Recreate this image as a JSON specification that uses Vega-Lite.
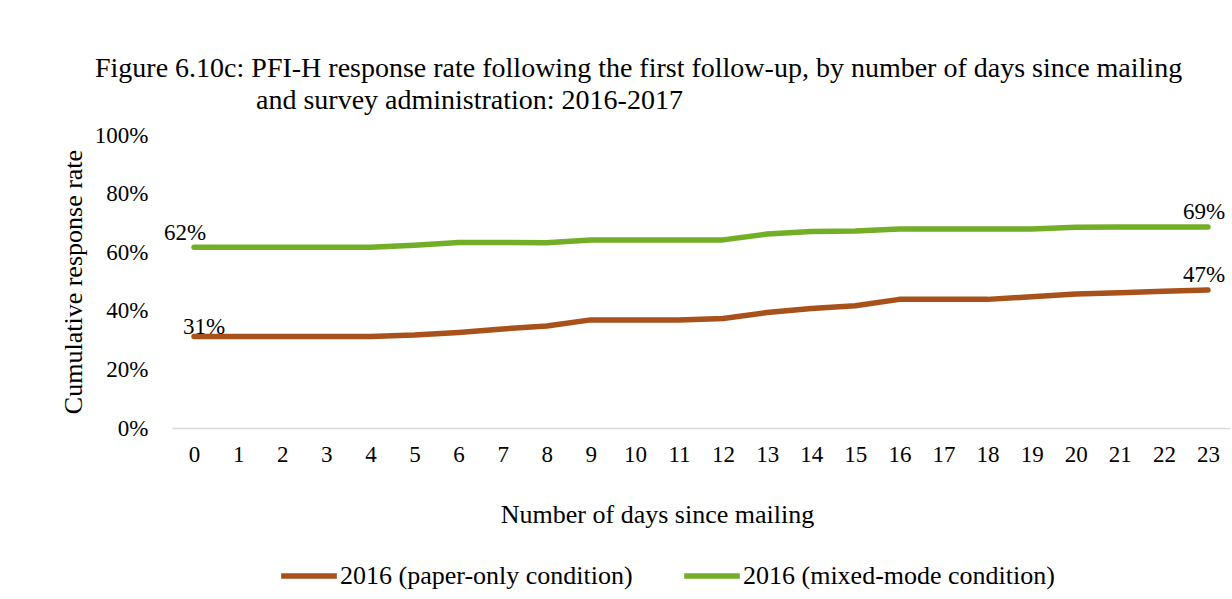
{
  "$schema": "https://vega.github.io/schema/vega-lite/v6.json",
  "autosize": "none",
  "width": 1058,
  "height": 293,
  "padding": {"left": 172, "top": 135, "right": 2, "bottom": 171},
  "background": "white",
  "title": {
    "text": ["Figure 6.10c:  PFI-H response rate following the first follow-up, by number of days since mailing", "\u200b\u00a0\u00a0\u00a0\u00a0\u00a0\u00a0\u00a0\u00a0\u00a0\u00a0\u00a0\u00a0\u00a0\u00a0\u00a0\u00a0\u00a0\u00a0\u00a0\u00a0\u00a0\u00a0\u00a0and survey administration: 2016-2017"],
    "anchor": "start",
    "align": "left",
    "frame": "group",
    "dx": -77,
    "offset": 9,
    "font": "Liberation Serif",
    "fontSize": 28,
    "fontWeight": "normal",
    "color": "#000000",
    "lineHeight": 32
  },
  "config": {
    "view": {"stroke": null},
    "font": "Liberation Serif"
  },
  "data": {
    "values": [
      {"day": 0, "series": "2016 (paper-only condition)", "rate": 0.312},
      {"day": 1, "series": "2016 (paper-only condition)", "rate": 0.312},
      {"day": 2, "series": "2016 (paper-only condition)", "rate": 0.312},
      {"day": 3, "series": "2016 (paper-only condition)", "rate": 0.312},
      {"day": 4, "series": "2016 (paper-only condition)", "rate": 0.312},
      {"day": 5, "series": "2016 (paper-only condition)", "rate": 0.317},
      {"day": 6, "series": "2016 (paper-only condition)", "rate": 0.326},
      {"day": 7, "series": "2016 (paper-only condition)", "rate": 0.338},
      {"day": 8, "series": "2016 (paper-only condition)", "rate": 0.348},
      {"day": 9, "series": "2016 (paper-only condition)", "rate": 0.369},
      {"day": 10, "series": "2016 (paper-only condition)", "rate": 0.369},
      {"day": 11, "series": "2016 (paper-only condition)", "rate": 0.369},
      {"day": 12, "series": "2016 (paper-only condition)", "rate": 0.374},
      {"day": 13, "series": "2016 (paper-only condition)", "rate": 0.394},
      {"day": 14, "series": "2016 (paper-only condition)", "rate": 0.408},
      {"day": 15, "series": "2016 (paper-only condition)", "rate": 0.417},
      {"day": 16, "series": "2016 (paper-only condition)", "rate": 0.439},
      {"day": 17, "series": "2016 (paper-only condition)", "rate": 0.439},
      {"day": 18, "series": "2016 (paper-only condition)", "rate": 0.439},
      {"day": 19, "series": "2016 (paper-only condition)", "rate": 0.448},
      {"day": 20, "series": "2016 (paper-only condition)", "rate": 0.457},
      {"day": 21, "series": "2016 (paper-only condition)", "rate": 0.462},
      {"day": 22, "series": "2016 (paper-only condition)", "rate": 0.467},
      {"day": 23, "series": "2016 (paper-only condition)", "rate": 0.471},
      {"day": 0, "series": "2016 (mixed-mode condition)", "rate": 0.617},
      {"day": 1, "series": "2016 (mixed-mode condition)", "rate": 0.617},
      {"day": 2, "series": "2016 (mixed-mode condition)", "rate": 0.617},
      {"day": 3, "series": "2016 (mixed-mode condition)", "rate": 0.617},
      {"day": 4, "series": "2016 (mixed-mode condition)", "rate": 0.617},
      {"day": 5, "series": "2016 (mixed-mode condition)", "rate": 0.624},
      {"day": 6, "series": "2016 (mixed-mode condition)", "rate": 0.633},
      {"day": 7, "series": "2016 (mixed-mode condition)", "rate": 0.633},
      {"day": 8, "series": "2016 (mixed-mode condition)", "rate": 0.632},
      {"day": 9, "series": "2016 (mixed-mode condition)", "rate": 0.642},
      {"day": 10, "series": "2016 (mixed-mode condition)", "rate": 0.642},
      {"day": 11, "series": "2016 (mixed-mode condition)", "rate": 0.642},
      {"day": 12, "series": "2016 (mixed-mode condition)", "rate": 0.642},
      {"day": 13, "series": "2016 (mixed-mode condition)", "rate": 0.662},
      {"day": 14, "series": "2016 (mixed-mode condition)", "rate": 0.671},
      {"day": 15, "series": "2016 (mixed-mode condition)", "rate": 0.672},
      {"day": 16, "series": "2016 (mixed-mode condition)", "rate": 0.679},
      {"day": 17, "series": "2016 (mixed-mode condition)", "rate": 0.679},
      {"day": 18, "series": "2016 (mixed-mode condition)", "rate": 0.679},
      {"day": 19, "series": "2016 (mixed-mode condition)", "rate": 0.679},
      {"day": 20, "series": "2016 (mixed-mode condition)", "rate": 0.685},
      {"day": 21, "series": "2016 (mixed-mode condition)", "rate": 0.686},
      {"day": 22, "series": "2016 (mixed-mode condition)", "rate": 0.686},
      {"day": 23, "series": "2016 (mixed-mode condition)", "rate": 0.686}
    ]
  },
  "encoding": {
    "x": {
      "field": "day",
      "type": "ordinal",
      "scale": {"type": "point", "padding": 0.5},
      "axis": {
        "title": "Number of days since mailing",
        "labelAngle": 0,
        "labelFont": "Liberation Serif",
        "labelFontSize": 23,
        "labelColor": "#000000",
        "labelPadding": 15,
        "ticks": false,
        "grid": false,
        "domainColor": "#D9D9D9",
        "domainWidth": 1.5,
        "titleFont": "Liberation Serif",
        "titleFontSize": 26,
        "titleFontWeight": "normal",
        "titleColor": "#000000",
        "titleX": 485,
        "titleY": 86,
        "titleAlign": "center",
        "titleBaseline": "middle"
      }
    },
    "y": {
      "field": "rate",
      "type": "quantitative",
      "scale": {"domain": [0, 1]},
      "axis": {
        "title": "Cumulative response rate",
        "format": ".0%",
        "values": [0, 0.2, 0.4, 0.6, 0.8, 1],
        "labelOverlap": false,
        "domain": false,
        "ticks": false,
        "grid": false,
        "labelFont": "Liberation Serif",
        "labelFontSize": 23,
        "labelColor": "#000000",
        "labelPadding": 24,
        "titleFont": "Liberation Serif",
        "titleFontSize": 26,
        "titleFontWeight": "normal",
        "titleColor": "#000000",
        "titlePadding": 8
      }
    },
    "color": {
      "field": "series",
      "type": "nominal",
      "scale": {
        "domain": ["2016 (paper-only condition)", "2016 (mixed-mode condition)"],
        "range": ["#A8511A", "#73AF26"]
      },
      "legend": {
        "title": null,
        "orient": "none",
        "direction": "horizontal",
        "legendX": 106,
        "legendY": 410,
        "padding": 0,
        "symbolType": "stroke",
        "symbolSize": 3100,
        "symbolStrokeWidth": 5.5,
        "labelFont": "Liberation Serif",
        "labelFontSize": 26,
        "labelColor": "#000000",
        "labelOffset": 0,
        "columnPadding": 40,
        "labelLimit": 400
      }
    }
  },
  "layer": [
    {
      "mark": {"type": "line", "strokeWidth": 5.5, "strokeCap": "round", "strokeJoin": "round"}
    },
    {
      "transform": [{"filter": "datum.day == 0 && datum.series == '2016 (mixed-mode condition)'"}],
      "mark": {"type": "text", "font": "Liberation Serif", "fontSize": 23, "align": "center", "baseline": "middle", "dy": -14, "dx": -9},
      "encoding": {"text": {"field": "rate", "type": "quantitative", "format": ".0%"}, "color": {"value": "#000000"}}
    },
    {
      "transform": [{"filter": "datum.day == 0 && datum.series == '2016 (paper-only condition)'"}],
      "mark": {"type": "text", "font": "Liberation Serif", "fontSize": 23, "align": "center", "baseline": "middle", "dy": -10, "dx": 10},
      "encoding": {"text": {"field": "rate", "type": "quantitative", "format": ".0%"}, "color": {"value": "#000000"}}
    },
    {
      "transform": [{"filter": "datum.day == 23"}],
      "mark": {"type": "text", "font": "Liberation Serif", "fontSize": 23, "align": "center", "baseline": "middle", "dy": -15, "dx": -4},
      "encoding": {"text": {"field": "rate", "type": "quantitative", "format": ".0%"}, "color": {"value": "#000000"}}
    }
  ]
}
